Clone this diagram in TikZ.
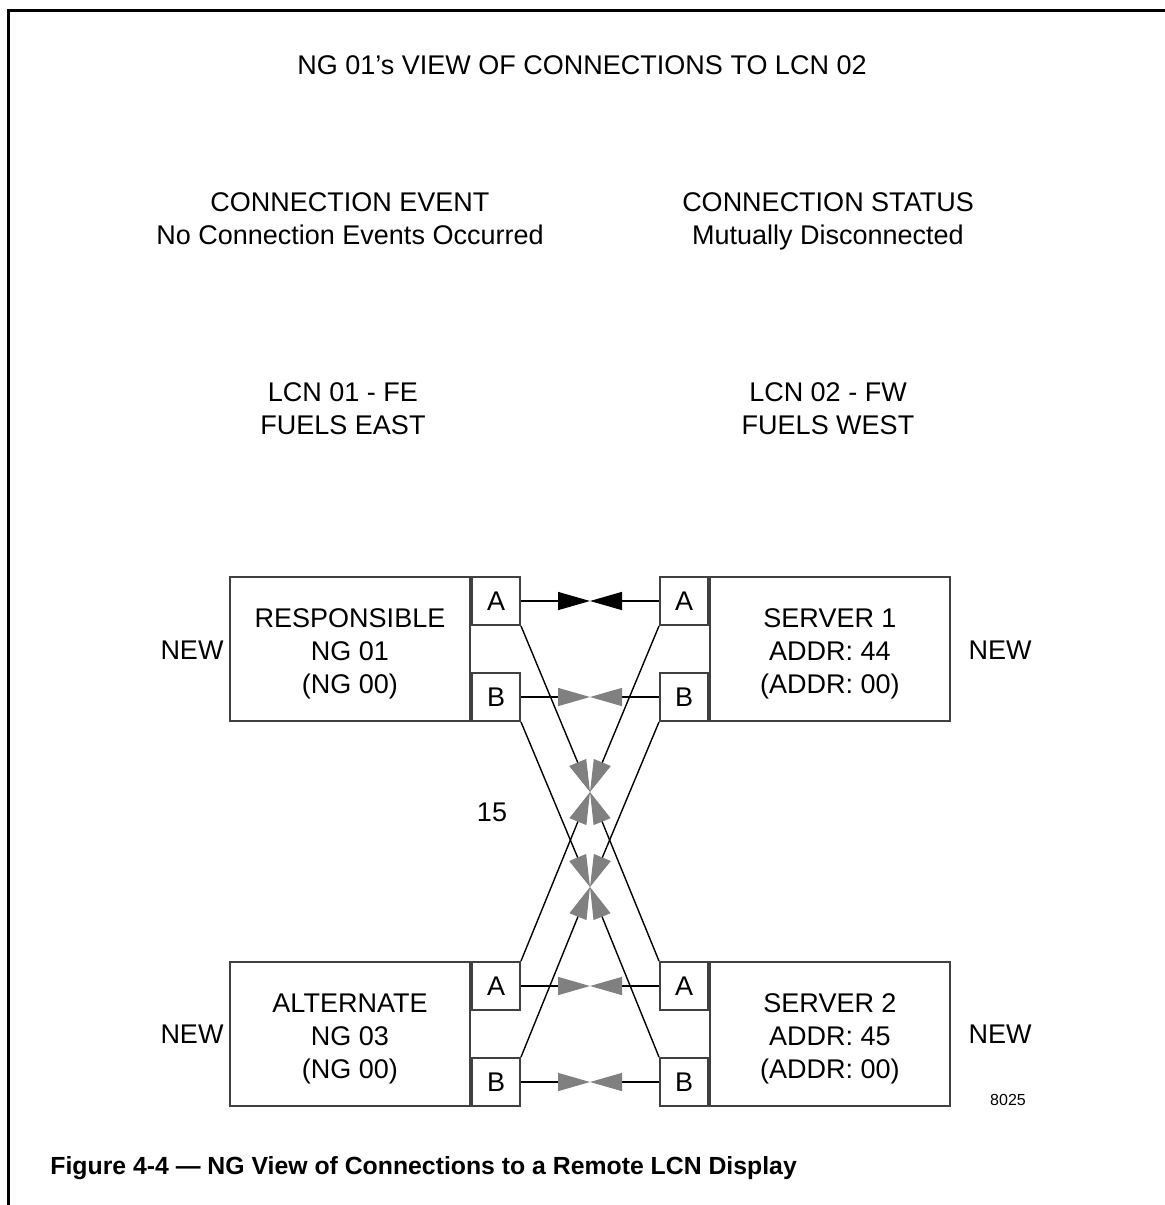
\documentclass[tikz,border=0pt]{standalone}
\usepackage{fontspec}
\setmainfont{Liberation Sans}
\usetikzlibrary{arrows.meta}

\tikzset{
	txt/.style={font=\fontsize{13.5}{16.5}\selectfont, align=center},
	unit/.style={shape=rectangle, draw=black!75, line width=1pt, minimum width=120pt, minimum height=72pt, inner sep=0pt, txt},
	port/.style={shape=rectangle, draw=black!75, line width=1pt, minimum width=24pt, minimum height=24pt, inner sep=0pt, txt},
	link/.style={draw=black, line width=0.7pt, -{Triangle[length=16pt, width=9pt]}},
	glink/.style={draw=black, line width=0.7pt, -{Triangle[length=16pt, width=9pt, color=gray]}}
}

\begin{document}
\begin{tikzpicture}[x=0.5pt, y=-0.5pt]

	\useasboundingbox (0,0) rectangle (1165,1205);

	% frame
	\draw[line width=1.5pt] (8.5,1205) -- (8.5,10) -- (1165,10);

	% headings
	\node[txt] (title)  at (582,65)    {NG 01's VIEW OF CONNECTIONS TO LCN 02};
	\node[txt] (event)  at (350,219)   {CONNECTION EVENT\\No Connection Events Occurred};
	\node[txt] (status) at (828,221)   {CONNECTION STATUS\\Mutually Disconnected};
	\node[txt] (lcn1)   at (343,409)   {LCN 01 - FE\\FUELS EAST};
	\node[txt] (lcn2)   at (828,409)   {LCN 02 - FW\\FUELS WEST};

	% network gateways and servers
	\node[unit] (ng1)  at (350,649)  {\rule{0pt}{14pt}RESPONSIBLE\\NG 01\\(NG 00)};
	\node[unit] (ng3)  at (350,1034) {\rule{0pt}{14pt}ALTERNATE\\NG 03\\(NG 00)};
	\node[unit] (srv1) at (830,649)  {\rule{0pt}{14pt}SERVER 1\\ADDR: 44\\(ADDR: 00)};
	\node[unit] (srv2) at (830,1034) {\rule{0pt}{14pt}SERVER 2\\ADDR: 45\\(ADDR: 00)};

	\node[port, anchor=north west] (ng1a)  at (ng1.north east)  {A};
	\node[port, anchor=south west] (ng1b)  at (ng1.south east)  {B};
	\node[port, anchor=north west] (ng3a)  at (ng3.north east)  {A};
	\node[port, anchor=south west] (ng3b)  at (ng3.south east)  {B};
	\node[port, anchor=north east] (srv1a) at (srv1.north west) {A};
	\node[port, anchor=south east] (srv1b) at (srv1.south west) {B};
	\node[port, anchor=north east] (srv2a) at (srv2.north west) {A};
	\node[port, anchor=south east] (srv2b) at (srv2.south west) {B};

	\node[txt] (new1) at (192,650)  {NEW};
	\node[txt] (new2) at (1000,650) {NEW};
	\node[txt] (new3) at (192,1034) {NEW};
	\node[txt] (new4) at (1000,1034) {NEW};
	\node[txt] (cnt)  at (492,812)  {15};
	\node[font=\fontsize{8}{10}\selectfont] (fig) at (1008,1100) {8025};

	% meeting points
	\coordinate (ma1) at (590,601);
	\coordinate (mb1) at (590,697);
	\coordinate (ma3) at (590,986);
	\coordinate (mb3) at (590,1082);
	\coordinate (xa)  at (590,792);
	\coordinate (xb)  at (590,887);

	\draw[link]  (ng1a) -- (ma1);
	\draw[link]  (srv1a) -- (ma1);
	\draw[glink] (ng1b) -- (mb1);
	\draw[glink] (srv1b) -- (mb1);
	\draw[glink] (ng3a) -- (ma3);
	\draw[glink] (srv2a) -- (ma3);
	\draw[glink] (ng3b) -- (mb3);
	\draw[glink] (srv2b) -- (mb3);

	\draw[glink] (ng1a.south east)  -- (xa);
	\draw[glink] (srv1a.south west) -- (xa);
	\draw[glink] (ng3a.north east)  -- (xa);
	\draw[glink] (srv2a.north west) -- (xa);
	\draw[glink] (ng1b.south east)  -- (xb);
	\draw[glink] (srv1b.south west) -- (xb);
	\draw[glink] (ng3b.north east)  -- (xb);
	\draw[glink] (srv2b.north west) -- (xb);

	% caption
	\node[anchor=west, inner sep=0pt, font=\bfseries\fontsize{12.4}{15}\selectfont] (cap) at (50,1168)
		{Figure 4-4 --- NG View of Connections to a Remote LCN Display};

\end{tikzpicture}
\end{document}
